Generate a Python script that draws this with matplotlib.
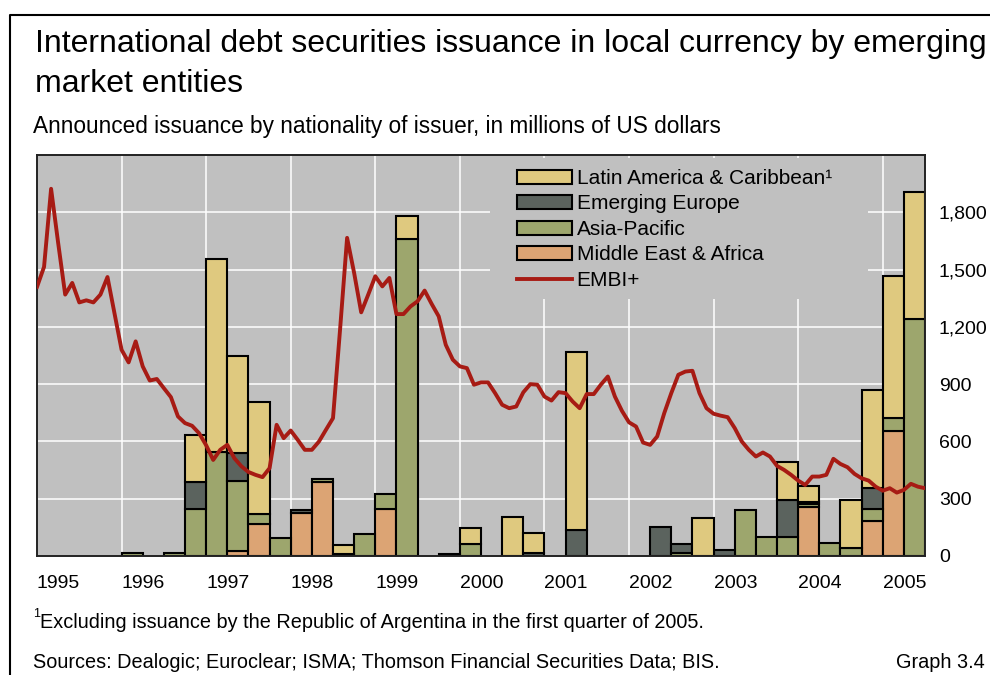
import numpy as np
import matplotlib
matplotlib.use("Agg")
import matplotlib.pyplot as plt
from matplotlib.patches import Patch, Rectangle
from matplotlib.lines import Line2D

plt.rcParams['font.family'] = ['Liberation Sans', 'DejaVu Sans']

# quarterly issuance, 1995Q1 .. 2005Q2 (millions of USD)
latin = [0, 0, 0, 0, 0, 0, 0, 248, 1010, 503, 585, 0, 0, 0, 50, 0, 0, 117, 0, 0, 84,
         0, 206, 105, 0, 932, 0, 0, 0, 0, 0, 197, 0, 0, 0, 197, 79, 0, 250, 512, 743, 664]
europe = [0, 0, 0, 0, 0, 0, 0, 140, 0, 149, 0, 0, 14, 0, 8, 0, 0, 0, 0, 10, 0,
          0, 0, 17, 0, 136, 0, 0, 0, 154, 44, 0, 31, 0, 0, 193, 12, 0, 0, 110, 0, 0]
asia = [0, 0, 0, 0, 17, 0, 17, 246, 545, 367, 53, 93, 0, 17, 0, 114, 77, 1662, 0, 0, 61,
        0, 0, 0, 0, 0, 0, 0, 0, 0, 17, 0, 0, 241, 101, 101, 14, 70, 44, 62, 65, 1241]
mideast = [0, 0, 0, 0, 0, 0, 0, 0, 0, 26, 166, 0, 227, 386, 0, 0, 246, 0, 0, 0, 0,
           0, 0, 0, 0, 0, 0, 0, 0, 0, 0, 0, 0, 0, 0, 0, 259, 0, 0, 183, 657, 0]

# EMBI+ spread, monthly from Jan 1995
embi = [1409, 1514, 1923, 1640, 1369, 1430, 1328, 1339, 1328, 1369, 1461, 1270,
        1080, 1014, 1124, 993, 919, 927, 879, 832, 731, 696, 682, 643,
        580, 503, 556, 582, 512, 470, 440, 425, 413, 460, 687, 617,
        657, 608, 556, 556, 599, 661, 722, 1185, 1666, 1482, 1276, 1369,
        1465, 1412, 1456, 1267, 1267, 1307, 1334, 1390, 1320, 1255, 1106, 1028,
        993, 984, 897, 909, 909, 853, 792, 774, 783, 857, 900, 897,
        835, 814, 858, 853, 809, 774, 848, 848, 897, 940, 835, 760,
        700, 678, 594, 582, 626, 748, 853, 949, 966, 970, 853, 774,
        745, 735, 727, 670, 600, 556, 521, 542, 521, 472, 451, 425,
        395, 372, 416, 416, 425, 509, 482, 465, 430, 407, 395, 363,
        342, 355, 332, 346, 378, 363, 355]

years = list(range(1995, 2006))
yticks = [0, 300, 600, 900, 1200, 1500, 1800]

series = [("Middle East & Africa", mideast, "#DCA474"),
          ("Asia-Pacific", asia, "#9DA66D"),
          ("Emerging Europe", europe, "#5B635E"),
          ("Latin America & Caribbean¹", latin, "#DFC97F")]
line_color = "#A71B14"
bg = "#C0C0C0"

W, H = 990, 675
fig = plt.figure(figsize=(W / 100, H / 100), dpi=100)
ax = fig.add_axes([37 / W, 1 - 556 / H, (925 - 37) / W, (556 - 155) / H])
ax.set_facecolor(bg)

xq = 1995 + np.arange(len(latin)) / 4
bottom = np.zeros(len(latin))
for name, vals, col in series:
    v = np.array(vals, dtype=float)
    m = v > 0
    ax.bar(xq[m], v[m], width=0.25, bottom=bottom[m], align='edge',
           color=col, edgecolor='black', linewidth=1.5, zorder=2)
    bottom += v

xm = 1995 + np.arange(len(embi)) / 12
ax.plot(xm, embi, color=line_color, lw=2.8, zorder=3, solid_joinstyle='round')

ax.set_xlim(1995, 2005.5)
ax.set_ylim(0, 2100)
ax.set_axisbelow(True)
ax.grid(True, color='white', lw=1.1)

ax.set_xticks(years)
ax.set_xticklabels([str(y) for y in years], ha='left', fontsize=14)
ax.tick_params(axis='x', length=0, pad=14)
ax.yaxis.tick_right()
ax.set_yticks(yticks)
ax.set_yticklabels([f"{t:,}" for t in yticks], fontsize=14)
ax.tick_params(axis='y', length=0, pad=10)
for s in ax.spines.values():
    s.set_color('#222222')
    s.set_linewidth(1.4)

# grey box behind the legend hides the gridlines
ax.add_patch(Rectangle(((490 - 37) / 888, (556 - 299) / 401), (868 - 490) / 888,
                       (299 - 158) / 401, transform=ax.transAxes,
                       facecolor=bg, edgecolor='none', zorder=1))

handles = [Patch(facecolor=c, edgecolor='black', lw=1.5, label=n) for n, _, c in series[::-1]]
handles.append(Line2D([], [], color=line_color, lw=2.8, label="EMBI+"))
fig.legend(handles=handles, loc='upper left', bbox_to_anchor=(517 / W, 1 - 169 / H),
           frameon=False, fontsize=15, handlelength=2.64, handleheight=0.67,
           handletextpad=0.22, labelspacing=0.31, borderpad=0, borderaxespad=0)

fig.text(35 / W, 1 - 52 / H, "International debt securities issuance in local currency by emerging",
         fontsize=23, va='baseline')
fig.text(35 / W, 1 - 92 / H, "market entities", fontsize=23, va='baseline')
fig.text(33 / W, 1 - 133 / H, "Announced issuance by nationality of issuer, in millions of US dollars",
         fontsize=16.3, va='baseline')
fig.text(33 / W, 1 - 617 / H, "1", fontsize=9, va='baseline')
fig.text(40 / W, 1 - 628 / H, "Excluding issuance by the Republic of Argentina in the first quarter of 2005.",
         fontsize=14.3, va='baseline')
fig.text(33 / W, 1 - 668 / H, "Sources: Dealogic; Euroclear; ISMA; Thomson Financial Securities Data; BIS.",
         fontsize=14.3, va='baseline')
fig.text(985 / W, 1 - 668 / H, "Graph 3.4", fontsize=14.3, va='baseline', ha='right')

# outer frame
fig.add_artist(Line2D([10 / W, 10 / W, 1.0], [0.0, 1 - 15 / H, 1 - 15 / H],
                      transform=fig.transFigure, color='black', lw=1.5))

fig.savefig("out.png", dpi=100)
